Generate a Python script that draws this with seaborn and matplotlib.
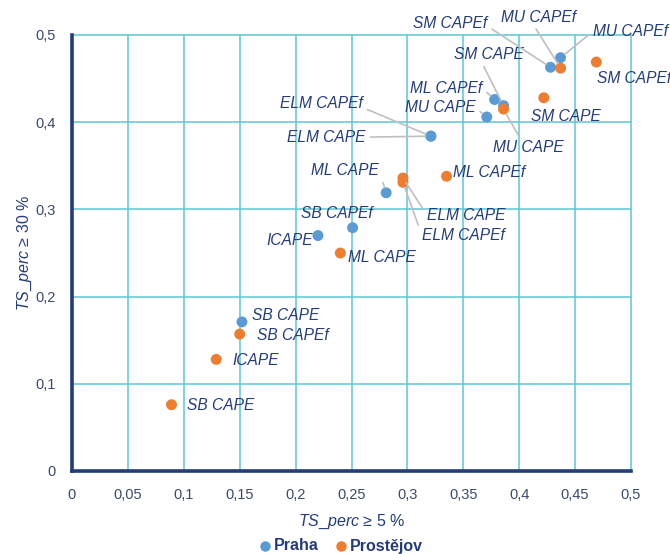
import matplotlib
matplotlib.use("Agg")
import matplotlib.pyplot as plt
import seaborn as sns
import pandas as pd
from matplotlib.ticker import FuncFormatter
from matplotlib.lines import Line2D

# --- data -----------------------------------------------------------------
indices = ["SB CAPE", "SB CAPEf", "ML CAPE", "ML CAPEf", "MU CAPE", "MU CAPEf",
           "SM CAPE", "SM CAPEf", "ELM CAPE", "ELM CAPEf", "ICAPE"]
praha_x = [0.152, 0.251, 0.281, 0.378, 0.371, 0.437, 0.386, 0.428, 0.321, 0.321, 0.220]
praha_y = [0.171, 0.279, 0.319, 0.426, 0.406, 0.474, 0.419, 0.463, 0.384, 0.384, 0.270]
prostejov_x = [0.089, 0.150, 0.240, 0.335, 0.386, 0.437, 0.422, 0.469, 0.296, 0.296, 0.129]
prostejov_y = [0.076, 0.157, 0.250, 0.338, 0.415, 0.462, 0.428, 0.469, 0.336, 0.331, 0.128]
cities = ["Praha", "Prostějov"]
x_ticks = [0, 0.05, 0.1, 0.15, 0.2, 0.25, 0.3, 0.35, 0.4, 0.45, 0.5]
y_ticks = [0, 0.1, 0.2, 0.3, 0.4, 0.5]

# --- label placement (pixel offsets, alignment, leader anchor on text) -----
label_layout = {
    ("Praha", "SM CAPEf"): (-63, 44, "right", (1.0, 0.3)),
    ("Praha", "MU CAPEf"): (32, 26, "left", (0.0, 0.5)),
    ("Praha", "SM CAPE"): (-15, 51, "center", (0.4, 0.0)),
    ("Praha", "ML CAPEf"): (-12, 11, "right", (1.0, 0.5)),
    ("Praha", "MU CAPE"): (-11, 9, "right", (1.0, 0.5)),
    ("Praha", "ELM CAPEf"): (-68, 33, "right", (1.0, 0.2)),
    ("Praha", "ELM CAPE"): (-65, -1, "right", (1.0, 0.5)),
    ("Praha", "ML CAPE"): (-7, 22, "right", (1.0, 0.5)),
    ("Praha", "SB CAPEf"): (-16, 14, "center", None),
    ("Praha", "ICAPE"): (-5, -5, "right", None),
    ("Praha", "SB CAPE"): (10, 6, "left", None),
    ("Prostějov", "SM CAPEf"): (1, -16, "left", None),
    ("Prostějov", "MU CAPEf"): (-22, 51, "center", (0.43, 0.0)),
    ("Prostějov", "SM CAPE"): (22, -19, "center", None),
    ("Prostějov", "MU CAPE"): (25, -38, "center", (0.39, 1.0)),
    ("Prostějov", "ML CAPEf"): (6, 4, "left", None),
    ("Prostějov", "ELM CAPE"): (24, -37, "left", (0.0, 0.5)),
    ("Prostějov", "ELM CAPEf"): (19, -53, "left", (0.0, 0.5)),
    ("Prostějov", "ML CAPE"): (8, -4, "left", None),
    ("Prostějov", "SB CAPEf"): (17, -1, "left", None),
    ("Prostějov", "ICAPE"): (16, -1, "left", None),
    ("Prostějov", "SB CAPE"): (15, -1, "left", None),
}

# --- style ----------------------------------------------------------------
sns.set_theme(style="white")
plt.rcParams["font.family"] = ["Liberation Sans", "DejaVu Sans"]
plt.rcParams["mathtext.fontset"] = "custom"
plt.rcParams["mathtext.it"] = "Liberation Sans:italic"
plt.rcParams["mathtext.rm"] = "Liberation Sans"

NAVY = "#243C7C"
TICK = "#3B4A6B"
GRID = "#5EC6D6"
LEADER = "#BFBFBF"
palette = {"Praha": "#5B9BD5", "Prostějov": "#ED7D31"}

df = pd.DataFrame({
    "x": praha_x + prostejov_x,
    "y": praha_y + prostejov_y,
    "index": indices * 2,
    "city": [cities[0]] * len(indices) + [cities[1]] * len(indices),
})

fig = plt.figure(figsize=(6.7, 5.54), dpi=100)
ax = fig.add_axes([72 / 670, 83 / 554, 559 / 670, 436 / 554])

sns.scatterplot(data=df, x="x", y="y", hue="city", palette=palette, s=62,
                edgecolor="none", legend=False, ax=ax, zorder=3)

ax.set_xlim(0, 0.5)
ax.set_ylim(0, 0.5)
ax.set_xticks(x_ticks)
ax.set_yticks(y_ticks)
fmt = FuncFormatter(lambda v, _: f"{v:g}".replace(".", ","))
ax.xaxis.set_major_formatter(fmt)
ax.yaxis.set_major_formatter(fmt)
ax.grid(True, color=GRID, linewidth=1.1, zorder=0)
ax.set_axisbelow(True)
for gl in ax.get_xgridlines() + ax.get_ygridlines():
    gl.set_clip_on(False)
ax.tick_params(length=0, labelsize=10.5, labelcolor=TICK)
ax.tick_params(axis="x", pad=12)
ax.tick_params(axis="y", pad=12)

for side in ("top", "right"):
    ax.spines[side].set_visible(False)
for side in ("left", "bottom"):
    ax.spines[side].set_color(NAVY)
    ax.spines[side].set_linewidth(2.6)
    ax.spines[side].set_zorder(4)

ax.set_xlabel(r"$\mathit{TS\_perc}$ ≥ 5 %", fontsize=11.5, color=NAVY, labelpad=8)
ax.set_ylabel(r"$\mathit{TS\_perc}$ ≥ 30 %", fontsize=11.5, color=NAVY, labelpad=1)

# --- point labels ---------------------------------------------------------
for _, row in df.iterrows():
    dx, dy, ha, relpos = label_layout[(row["city"], row["index"])]
    kw = {}
    if relpos is not None:
        kw["arrowprops"] = dict(arrowstyle="-", color=LEADER, lw=1.2,
                                shrinkA=1, shrinkB=4, relpos=relpos)
    ax.annotate(row["index"], xy=(row["x"], row["y"]), xytext=(dx, dy),
                textcoords="offset pixels", ha=ha, va="center",
                fontsize=11.2, style="italic", color=NAVY, zorder=5, **kw)

# --- legend (dot + bold name per city, on a common baseline) ---------------
W, H = 670, 554
legend_y = 546
legend_x = {"Praha": 265, "Prostějov": 341}
for c in cities:
    fig.add_artist(Line2D([legend_x[c] / W], [1 - legend_y / H],
                          transform=fig.transFigure, marker="o", linestyle="none",
                          markersize=7.5, markerfacecolor=palette[c],
                          markeredgecolor="none"))
    fig.text((legend_x[c] + 9) / W, 1 - (legend_y + 4.5) / H, c,
             ha="left", va="baseline", fontsize=11.5, weight="bold", color=NAVY)

fig.savefig("out.png", dpi=100)
